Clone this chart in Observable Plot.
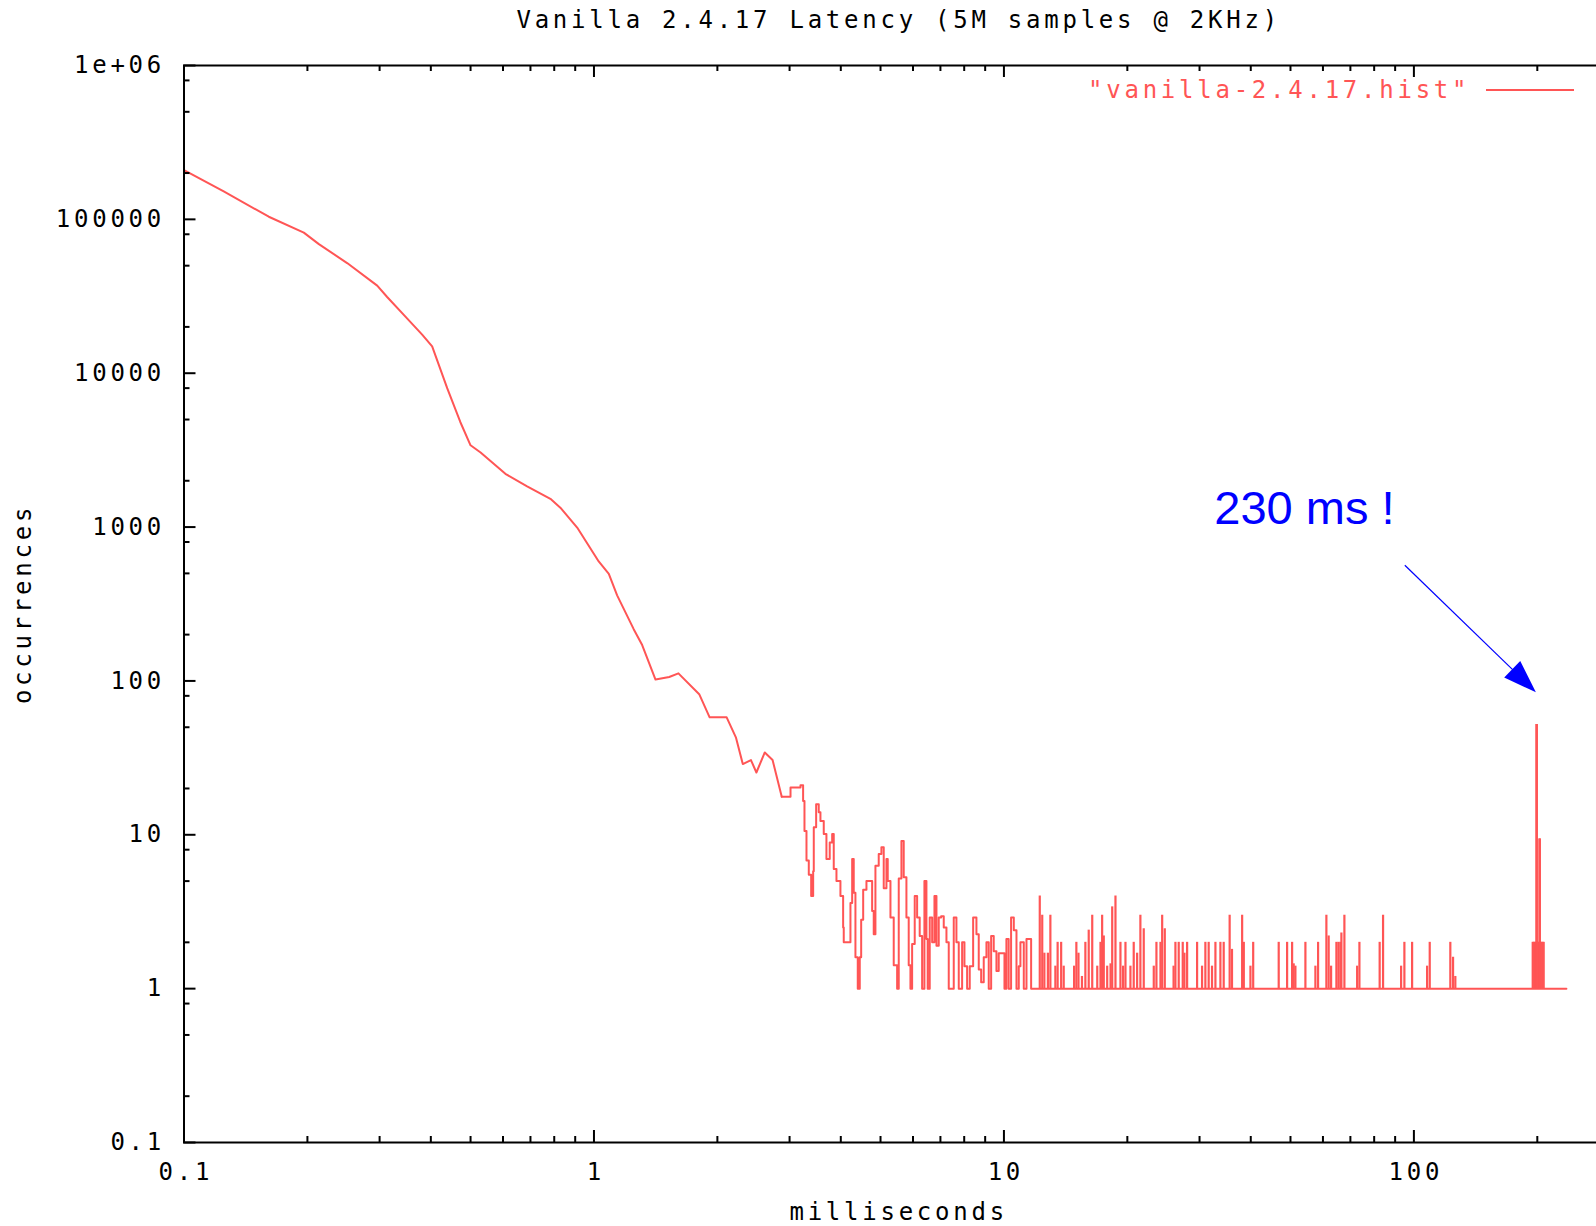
<!DOCTYPE html>
<html>
<head>
<meta charset="utf-8">
<script src="https://cdn.jsdelivr.net/npm/d3@7"></script>
<script src="https://cdn.jsdelivr.net/npm/@observablehq/plot@0.6"></script>
<style>
  html, body { margin: 0; padding: 0; overflow: hidden; background: #ffffff; }
  #chart svg { max-width: none !important; height: 1226px !important; width: 1620px !important; display: block; }
  #chart svg text { letter-spacing: 3.75px; }
</style>
</head>
<body>
<div id="chart"></div>
<script>
// ---------- data ----------
const chartTitle = "Vanilla 2.4.17 Latency (5M samples @ 2KHz)";
const xLabel = "milliseconds";
const yLabel = "occurrences";
const seriesName = "\"vanilla-2.4.17.hist\"";

const xMajor = [0.1, 1, 10, 100];
const xMajorLabels = ["0.1", "1", "10", "100"];
const xMinor = [0.2, 0.3, 0.4, 0.5, 0.6, 0.7, 0.8, 0.9,
                2, 3, 4, 5, 6, 7, 8, 9,
                20, 30, 40, 50, 60, 70, 80, 90,
                200, 300];
const yMajor = [0.1, 1, 10, 100, 1000, 10000, 100000, 1000000];
const yMajorLabels = ["0.1", "1", "10", "100", "1000", "10000", "100000", "1e+06"];
const yMinor = [0.2, 0.5, 0.8, 2, 5, 8, 20, 50, 80, 200, 500, 800,
                2000, 5000, 8000, 20000, 50000, 80000, 200000, 500000, 800000];

// histogram curve (milliseconds, occurrences)
const curveMs = [
  0.1, 0.125, 0.161, 0.196, 0.2133, 0.25, 0.296, 0.313, 0.35, 0.381, 0.403, 0.4385,
  0.472, 0.5, 0.529, 0.608, 0.687, 0.783, 0.828, 0.91, 1.027, 1.087, 1.139, 1.25,
  1.311, 1.413, 1.526, 1.607, 1.806, 1.915, 2.107, 2.219, 2.307, 2.415, 2.49, 2.61,
  2.727, 2.871, 3.016, 3.19, 3.237, 3.262, 3.299, 3.342, 3.387, 3.425, 3.437, 3.483,
  3.534, 3.568, 3.635, 3.69, 3.759, 3.811, 3.845, 3.904, 3.992, 4.053, 4.067, 4.183,
  4.223, 4.264, 4.302, 4.343, 4.4, 4.45, 4.485, 4.536, 4.62, 4.725, 4.77, 4.813,
  4.859, 4.95, 5.025, 5.091, 5.169, 5.207, 5.287, 5.385, 5.489, 5.539, 5.623, 5.696,
  5.783, 5.858, 5.915, 5.971, 6.059, 6.141, 6.231, 6.316, 6.398, 6.471, 6.517, 6.592,
  6.682, 6.769, 6.846, 6.934, 7.028, 7.132, 7.241, 7.335, 7.477, 7.544, 7.658, 7.759,
  7.907, 8.011, 8.132, 8.253, 8.412, 8.569, 8.681, 8.799, 8.928, 9.065, 9.182, 9.307,
  9.443, 9.588, 9.712, 9.899, 10.03, 10.14, 10.27, 10.41, 10.57, 10.73, 10.87, 10.97,
  11.18, 11.35, 11.56, 11.65, 12.05, 235.5
];
const curveCount = [
  209000, 152000, 104000, 82000, 69000, 52000, 37100, 31300, 22700, 17800, 14960, 8000,
  4820, 3400, 3055, 2218, 1840, 1525, 1337, 993, 598, 496, 360, 217,
  171, 102, 106, 112, 82, 58, 58, 43, 28.8, 30.6, 25.4, 34.3,
  30.6, 17.7, 20.3, 21, 16.6, 10.6, 6.8, 5.5, 4.0, 5.8, 11.2, 15.8,
  14, 12.3, 10.1, 6.95, 8.9, 10.1, 6.0, 5.0, 4.0, 2.5, 2.0, 2.0,
  3.6, 6.95, 4.2, 1.6, 1, 1.6, 2.8, 4.4, 5, 5, 3.2, 2.26,
  6.3, 7.5, 8.3, 4.5, 6.95, 5, 2.9, 1.42, 1, 5.2, 9.1, 5.3,
  2.9, 1.42, 1, 1.95, 4, 2.9, 2.2, 1, 5, 2.1, 1, 2.9,
  2, 4, 1.9, 2.9, 2.95, 2.5, 2, 1, 1, 2.9, 2, 1,
  2, 1.4, 1, 1.4, 2.9, 2.26, 1.33, 1.1, 1.6, 2, 1, 2.2,
  1.75, 1.3, 1.7, 1.7, 1, 2.1, 1, 2.9, 2.4, 1, 1.4, 2,
  1, 2.1, 2.1, 1, 1, 1
];

// isolated tail bins above the floor of 1 occurrence
const spikeMs = [
  12.23, 12.40, 12.55, 12.8, 12.98, 13.35, 13.52, 13.79, 13.99, 14.83, 15.02, 15.2,
  15.5, 15.8, 16.1, 16.42, 16.89, 17.2, 17.36, 17.52, 17.86, 18.2, 18.37, 18.71,
  19.24, 19.53, 19.79, 20.35, 20.73, 21.13, 21.52, 21.93, 23.2, 23.55, 24.09, 24.32,
  24.68, 25.93, 26.2, 26.69, 27.3, 27.56, 27.98, 29.59, 30.43, 31.0, 31.58, 32.18,
  32.8, 33.73, 34.36, 35.53, 36.0, 38.11, 38.47, 39.93, 40.55, 46.8, 49.06, 50.46,
  50.91, 51.4, 54.37, 57.51, 58.38, 61.17, 61.96, 62.81, 64.71, 65.45, 66.18, 66.55,
  67.68, 72.7, 73.64, 82.51, 84.1, 93.07, 94.8, 99.0, 107.7, 109.3, 122.7, 124.6,
  126.2, 194.9, 195.8, 196.7, 197.8, 198.6, 199.0, 199.5, 200.5, 201.5, 202.4, 202.9,
  204, 205, 206.2, 207.3
];
const spikeCount = [
  4, 3, 1.7, 1.7, 3, 1.4, 2, 2, 1.4, 1.4, 2, 1.7,
  1.2, 2, 2.4, 3, 1.4, 2, 3, 2.2, 1.4, 1.45, 3.4, 4,
  2, 1.4, 2, 1.4, 2, 1.7, 3, 2.45, 1.4, 2, 2, 3,
  2.45, 1.4, 2, 2, 2, 1.7, 2, 2, 1.4, 2, 2, 1.4,
  2, 2, 2, 3, 1.8, 3, 2, 1.4, 2, 2, 2, 2,
  1.45, 1.4, 2, 1.4, 2, 3, 2.2, 1.4, 2, 2, 2, 2.3,
  3, 1.4, 2, 2, 3, 1.4, 2, 2, 1.4, 2, 2, 1.6,
  1.2, 2, 2, 2, 2, 2, 52, 52, 2, 2, 9.4, 9.4,
  2, 2, 2, 2
];

// annotation
const annotationText = "230 ms !";
const annotationAt = [32.6, 1052];   // [ms, occurrences] of text baseline start
const arrowFrom = [95.3, 561];
const arrowTo = [199, 83.8];

// ---------- build ----------
const curve = curveMs.map((ms, i) => ({ms, count: curveCount[i]}));
const spikes = spikeMs.map((ms, i) => ({ms, count: spikeCount[i]}));
const smoothPart = curve.filter(d => d.ms <= 2.871);
const noisyPart = curve.filter(d => d.ms >= 2.871);
const xLab = new Map(xMajor.map((v, i) => [v, xMajorLabels[i]]));
const yLab = new Map(yMajor.map((v, i) => [v, yMajorLabels[i]]));

const RED = "#ff5555";
const BLUE = "#0000ff";
const W = 1620, H = 1226;
const mL = 183.5, mR = 11, mT = 65, mB = 84;
const fw = W - mL - mR, fh = H - mT - mB;
const MAJ = 12, MIN = 6;
const mono = "DejaVu Sans Mono";

function legendSample(index, scales, values, dims) {
  const right = dims.width - dims.marginRight;
  const y = dims.marginTop + 25;
  const g = d3.create("svg:g").attr("aria-label", "legend sample");
  g.append("line")
    .attr("x1", right - 123).attr("x2", right - 35)
    .attr("y1", y).attr("y2", y)
    .attr("stroke", RED).attr("stroke-width", 2);
  return g.node();
}

function annotationArrow(index, scales) {
  const sx = typeof scales.x === "function" ? scales.x : scales.x.apply;
  const sy = typeof scales.y === "function" ? scales.y : scales.y.apply;
  const x1 = sx(arrowFrom[0]), y1 = sy(arrowFrom[1]);
  const x2 = sx(arrowTo[0]), y2 = sy(arrowTo[1]);
  const dx = x2 - x1, dy = y2 - y1, len = Math.hypot(dx, dy);
  const ux = dx / len, uy = dy / len;
  const hl = 33, hw = 11.5;
  const bx = x2 - ux * hl, by = y2 - uy * hl;
  const g = d3.create("svg:g").attr("aria-label", "annotation arrow");
  g.append("line").attr("x1", x1).attr("y1", y1).attr("x2", bx + ux * 2).attr("y2", by + uy * 2)
    .attr("stroke", BLUE).attr("stroke-width", 1.2);
  g.append("path")
    .attr("d", `M${x2},${y2}L${bx - uy * hw},${by + ux * hw}L${bx + uy * hw},${by - ux * hw}Z`)
    .attr("fill", BLUE);
  return g.node();
}

const tickStyle = {stroke: "black", strokeWidth: 2};

const plot = Plot.plot({
  width: W,
  height: H,
  marginLeft: mL,
  marginRight: mR,
  marginTop: mT,
  marginBottom: mB,
  style: {fontFamily: mono, fontSize: "24px", background: "#ffffff", color: "black", overflow: "hidden", maxWidth: "none"},
  x: {type: "log", domain: [0.1, 300]},
  y: {type: "log", domain: [0.1, 1e6]},
  marks: [
    // data
    Plot.line(smoothPart, {x: "ms", y: "count", stroke: RED, strokeWidth: 2}),
    Plot.line(noisyPart, {x: "ms", y: "count", stroke: RED, strokeWidth: 2, curve: "step-after"}),
    Plot.ruleX(spikes, {x: "ms", y1: 1, y2: "count", stroke: RED, strokeWidth: 2.2}),
    // ticks (inward, mirrored on all sides)
    Plot.ruleX(xMajor, {...tickStyle, insetTop: fh - MAJ}),
    Plot.ruleX(xMajor, {...tickStyle, insetBottom: fh - MAJ}),
    Plot.ruleX(xMinor, {...tickStyle, insetTop: fh - MIN}),
    Plot.ruleX(xMinor, {...tickStyle, insetBottom: fh - MIN}),
    Plot.ruleY(yMajor, {...tickStyle, insetRight: fw - MAJ}),
    Plot.ruleY(yMajor, {...tickStyle, insetLeft: fw - MAJ}),
    Plot.ruleY(yMinor, {...tickStyle, insetRight: fw - MIN}),
    Plot.ruleY(yMinor, {...tickStyle, insetLeft: fw - MIN}),
    Plot.frame({stroke: "black", strokeWidth: 2}),
    // tick labels
    Plot.axisX({ticks: xMajor, tickFormat: d => xLab.get(d), tickSize: 0, tickPadding: 20,
      label: null, fontSize: 24, fontFamily: mono, dx: 1.9}),
    Plot.axisY({ticks: yMajor, tickFormat: d => yLab.get(d), tickSize: 0, tickPadding: 19,
      label: null, fontSize: 24, fontFamily: mono}),
    // titles
    Plot.text([chartTitle], {frameAnchor: "top", dy: -45, dx: 1.9, text: d => d,
      fontSize: 24, fontFamily: mono, fill: "black", textAnchor: "middle", lineAnchor: "middle"}),
    Plot.text([xLabel], {frameAnchor: "bottom", dy: 70, dx: 1.9, text: d => d,
      fontSize: 24, fontFamily: mono, fill: "black", textAnchor: "middle", lineAnchor: "middle"}),
    Plot.text([yLabel], {frameAnchor: "left", dx: -161, text: d => d, rotate: -90,
      fontSize: 24, fontFamily: mono, fill: "black", textAnchor: "middle", lineAnchor: "middle"}),
    // legend
    Plot.text([seriesName], {frameAnchor: "top-right", dx: -139.25, dy: 25, text: d => d,
      fontSize: 24, fontFamily: mono, fill: RED, textAnchor: "end", lineAnchor: "middle"}),
    legendSample,
    // annotation
    Plot.text([annotationText], {x: annotationAt[0], y: annotationAt[1], text: d => d,
      fontSize: 47, fontFamily: "Liberation Sans", fill: BLUE,
      textAnchor: "start", lineAnchor: "bottom"}),
    annotationArrow
  ]
});

d3.select(plot).selectAll("text")
  .filter(function() { return this.textContent === annotationText; })
  .style("letter-spacing", "0px");

document.getElementById("chart").appendChild(plot);
</script>
</body>
</html>
